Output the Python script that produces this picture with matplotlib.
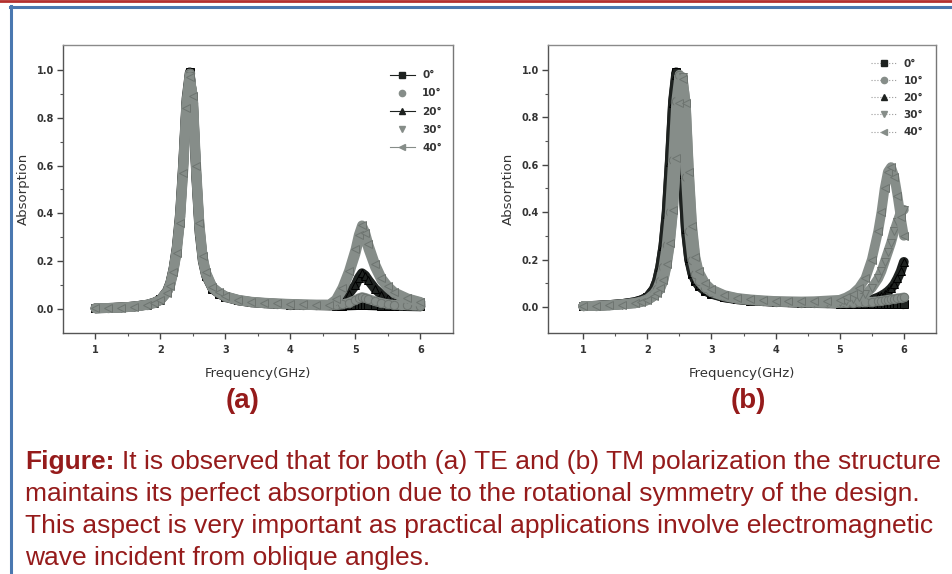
import matplotlib
matplotlib.use("Agg")
import matplotlib.pyplot as plt
from matplotlib.lines import Line2D

# frequency grid, panel (a) TE
fa = [1.0, 1.2, 1.4, 1.6, 1.8, 1.9, 2.0, 2.1, 2.15, 2.2, 2.25, 2.3, 2.35, 2.4, 2.45,
      2.5, 2.55, 2.6, 2.65, 2.7, 2.8, 2.9, 3.0, 3.2, 3.4, 3.6, 3.8, 4.0, 4.2, 4.4, 4.6,
      4.7, 4.8, 4.9, 5.0, 5.05, 5.1, 5.15, 5.2, 5.3, 5.4, 5.5, 5.6, 5.8, 6.0]

te_0 = [0.003, 0.005, 0.007, 0.011, 0.019, 0.027, 0.04, 0.075, 0.11, 0.17, 0.26, 0.4, 0.62, 0.88, 0.99,
        0.85, 0.55, 0.32, 0.2, 0.14, 0.085, 0.065, 0.05, 0.036, 0.028, 0.024, 0.021, 0.019, 0.017, 0.016, 0.015,
        0.014, 0.014, 0.015, 0.016, 0.017, 0.018, 0.017, 0.016, 0.015, 0.014, 0.013, 0.013, 0.012, 0.011]
te_10 = [0.003, 0.005, 0.007, 0.011, 0.019, 0.027, 0.04, 0.074, 0.108, 0.168, 0.255, 0.39, 0.61, 0.87, 0.985,
         0.86, 0.56, 0.33, 0.205, 0.142, 0.087, 0.066, 0.051, 0.036, 0.028, 0.024, 0.021, 0.019, 0.017, 0.016, 0.015,
         0.016, 0.02, 0.027, 0.038, 0.045, 0.05, 0.047, 0.042, 0.033, 0.026, 0.021, 0.018, 0.015, 0.013]
te_20 = [0.003, 0.004, 0.007, 0.011, 0.018, 0.026, 0.039, 0.072, 0.105, 0.165, 0.25, 0.38, 0.6, 0.86, 0.98,
         0.87, 0.57, 0.34, 0.21, 0.145, 0.088, 0.067, 0.052, 0.037, 0.029, 0.025, 0.022, 0.02, 0.018, 0.017, 0.016,
         0.02, 0.038, 0.065, 0.1, 0.13, 0.15, 0.14, 0.12, 0.085, 0.06, 0.045, 0.035, 0.025, 0.02]
te_30 = [0.003, 0.004, 0.006, 0.01, 0.018, 0.025, 0.038, 0.07, 0.1, 0.16, 0.24, 0.37, 0.58, 0.85, 0.975,
         0.88, 0.58, 0.35, 0.215, 0.15, 0.09, 0.068, 0.053, 0.038, 0.03, 0.026, 0.023, 0.021, 0.019, 0.018, 0.018,
         0.035, 0.08, 0.145, 0.23, 0.285, 0.32, 0.295, 0.25, 0.175, 0.12, 0.088, 0.065, 0.042, 0.028]
te_40 = [0.003, 0.004, 0.006, 0.01, 0.017, 0.024, 0.037, 0.068, 0.098, 0.155, 0.235, 0.36, 0.57, 0.84, 0.97,
         0.89, 0.6, 0.36, 0.22, 0.155, 0.092, 0.07, 0.054, 0.039, 0.031, 0.027, 0.024, 0.022, 0.02, 0.019, 0.019,
         0.04, 0.09, 0.16, 0.25, 0.31, 0.35, 0.32, 0.27, 0.19, 0.13, 0.095, 0.07, 0.045, 0.03]

# frequency grid, panel (b) TM
fb = [1.0, 1.2, 1.4, 1.6, 1.8, 1.9, 2.0, 2.1, 2.15, 2.2, 2.25, 2.3, 2.35, 2.4, 2.45,
      2.5, 2.55, 2.6, 2.65, 2.7, 2.75, 2.8, 2.9, 3.0, 3.2, 3.4, 3.6, 3.8, 4.0, 4.2, 4.4, 4.6, 4.8,
      5.0, 5.1, 5.2, 5.3, 5.4, 5.5, 5.6, 5.65, 5.7, 5.75, 5.8, 5.85, 5.9, 5.95, 6.0]

tm_0 = [0.003, 0.005, 0.008, 0.012, 0.02, 0.028, 0.04, 0.075, 0.11, 0.17, 0.26, 0.4, 0.62, 0.87, 0.99,
        0.85, 0.55, 0.32, 0.2, 0.14, 0.11, 0.09, 0.068, 0.055, 0.04, 0.032, 0.027, 0.024, 0.021, 0.019, 0.017, 0.016, 0.015,
        0.014, 0.014, 0.013, 0.013, 0.013, 0.012, 0.012, 0.012, 0.012, 0.012, 0.012, 0.012, 0.012, 0.012, 0.011]
tm_10 = [0.003, 0.004, 0.007, 0.011, 0.017, 0.023, 0.033, 0.055, 0.075, 0.11, 0.17, 0.26, 0.4, 0.62, 0.87,
         0.98, 0.85, 0.55, 0.32, 0.2, 0.14, 0.11, 0.08, 0.062, 0.044, 0.034, 0.028, 0.025, 0.022, 0.02, 0.018, 0.017, 0.016,
         0.016, 0.017, 0.018, 0.019, 0.02, 0.022, 0.024, 0.026, 0.028, 0.03, 0.032, 0.034, 0.036, 0.038, 0.04]
tm_20 = [0.003, 0.005, 0.008, 0.012, 0.02, 0.028, 0.04, 0.074, 0.108, 0.168, 0.255, 0.39, 0.61, 0.86, 0.98,
         0.86, 0.56, 0.33, 0.205, 0.145, 0.112, 0.092, 0.07, 0.057, 0.041, 0.033, 0.028, 0.025, 0.022, 0.02, 0.018, 0.017, 0.016,
         0.015, 0.016, 0.018, 0.021, 0.025, 0.03, 0.04, 0.047, 0.055, 0.065, 0.078, 0.095, 0.12, 0.15, 0.19]
tm_30 = [0.003, 0.004, 0.006, 0.01, 0.015, 0.02, 0.028, 0.045, 0.058, 0.075, 0.11, 0.17, 0.26, 0.4, 0.62,
         0.87, 0.97, 0.85, 0.55, 0.32, 0.2, 0.14, 0.095, 0.07, 0.048, 0.036, 0.03, 0.026, 0.023, 0.021, 0.02, 0.02, 0.021,
         0.022, 0.026, 0.032, 0.04, 0.055, 0.08, 0.12, 0.15, 0.19, 0.23, 0.27, 0.32, 0.36, 0.4, 0.41]
tm_40 = [0.003, 0.004, 0.006, 0.01, 0.015, 0.02, 0.028, 0.046, 0.06, 0.08, 0.115, 0.18, 0.27, 0.41, 0.63,
         0.86, 0.96, 0.86, 0.57, 0.34, 0.21, 0.15, 0.1, 0.074, 0.05, 0.038, 0.032, 0.028, 0.025, 0.024, 0.023, 0.024, 0.027,
         0.03, 0.04, 0.055, 0.08, 0.12, 0.2, 0.32, 0.4, 0.5, 0.57, 0.59, 0.55, 0.47, 0.38, 0.3]

angles = ["0°", "10°", "20°", "30°", "40°"]
markers = ["s", "o", "^", "v", "<"]
black = "#1e2220"
grey = "#868d89"
colors = [black, grey, black, grey, grey]
edges = ["#000000", "#6e7470", "#000000", "#6e7470", "#6e7470"]
zorders = [2, 4, 3, 5, 6]

caption_color = "#951b1b"
chart_font = ["DejaVu Sans"]
caption_font = ["Liberation Sans", "DejaVu Sans"]

fig = plt.figure(figsize=(9.53, 5.74), dpi=100)

# frame lines of the poster box
fig.add_artist(Line2D([0, 1], [0.998, 0.998], color="#b3302e", lw=2.0))
fig.add_artist(Line2D([0.0105, 1], [0.988, 0.988], color="#4a78b0", lw=2.2))
fig.add_artist(Line2D([0.0115, 0.0115], [0, 0.989], color="#4a78b0", lw=2.2))


def draw_panel(ax, freq, series, xlim, ylim, legend_pos, legend_ls, spacing):
    for i, vals in enumerate(series):
        ax.plot(freq, vals, color=colors[i], lw=7, solid_capstyle="round", solid_joinstyle="round",
                marker=markers[i], ms=6, mfc=colors[i], mec=edges[i], mew=0.7, zorder=zorders[i])
    ax.set_xlim(*xlim)
    ax.set_ylim(*ylim)
    ax.set_xticks([1, 2, 3, 4, 5, 6])
    ax.set_xticks([1.5, 2.5, 3.5, 4.5, 5.5], minor=True)
    ax.set_yticks([0.0, 0.2, 0.4, 0.6, 0.8, 1.0])
    ax.set_yticks([0.1, 0.3, 0.5, 0.7, 0.9], minor=True)
    ax.set_yticklabels(["0.0", "0.2", "0.4", "0.6", "0.8", "1.0"])
    ax.tick_params(which="major", direction="out", length=4, width=1, color="#444444",
                   labelsize=7, labelcolor="#333333", pad=2.5)
    ax.tick_params(which="minor", direction="out", length=2, width=0.8, color="#555555")
    for lab in ax.get_xticklabels() + ax.get_yticklabels():
        lab.set_fontweight("bold")
        lab.set_family(chart_font)
    ax.tick_params(axis="x", pad=5)
    for sp in ax.spines.values():
        sp.set_color("#555555")
        sp.set_linewidth(1.0)
    ax.spines["top"].set_color("#8a8a8a")
    ax.spines["right"].set_color("#777777")
    ax.set_ylabel("Absorption", fontsize=9.5, color="#333333", family=chart_font, labelpad=5)
    ax.set_xlabel("Frequency(GHz)", fontsize=9.5, color="#333333", family=chart_font, labelpad=8)

    handles = []
    for i in range(5):
        lc = colors[i] if legend_ls == "-" else "#9a9a9a"
        if legend_ls == "-" and i in (1, 3):
            lc = "#ffffff"
        handles.append(Line2D([], [], color=lc, lw=0.8, ls=legend_ls, marker=markers[i],
                              ms=4.5, mfc=colors[i], mec=colors[i]))
    ax.legend(handles, angles, loc="upper left", bbox_to_anchor=legend_pos, frameon=False,
              handlelength=2.4, handletextpad=0.7, labelspacing=spacing, borderpad=0,
              prop={"family": chart_font, "weight": "bold", "size": 7.5}, labelcolor="#333333")


ax_a = fig.add_axes([0.0661, 0.4199, 0.4092, 0.5017])
draw_panel(ax_a, fa, [te_0, te_10, te_20, te_30, te_40], (0.5, 6.5), (-0.1, 1.104),
           (0.825, 0.93), "-", 0.78)
ax_b = fig.add_axes([0.575, 0.4199, 0.4071, 0.5017])
draw_panel(ax_b, fb, [tm_0, tm_10, tm_20, tm_30, tm_40], (0.45, 6.5), (-0.11, 1.105),
           (0.82, 0.97), ":", 0.68)

fig.text(243 / 953, 1 - 401 / 574, "(a)", color=caption_color, fontsize=20, fontweight="bold",
         family=caption_font, ha="center", va="center")
fig.text(748 / 953, 1 - 401 / 574, "(b)", color=caption_color, fontsize=20, fontweight="bold",
         family=caption_font, ha="center", va="center")

cap_lines = [
    "maintains its perfect absorption due to the rotational symmetry of the design.",
    "This aspect is very important as practical applications involve electromagnetic",
    "wave incident from oblique angles.",
]
fig.text(25 / 953, 1 - 462 / 574, "Figure:", color=caption_color, fontsize=19, fontweight="bold",
         family=caption_font, ha="left", va="center")
fig.text(122 / 953, 1 - 462 / 574,
         "It is observed that for both (a) TE and (b) TM polarization the structure",
         color=caption_color, fontsize=19, family=caption_font, ha="left", va="center")
for k, line in enumerate(cap_lines):
    fig.text(25 / 953, 1 - (494 + 32 * k) / 574, line, color=caption_color, fontsize=19,
             family=caption_font, ha="left", va="center")

fig.savefig("out.png", dpi=100)
